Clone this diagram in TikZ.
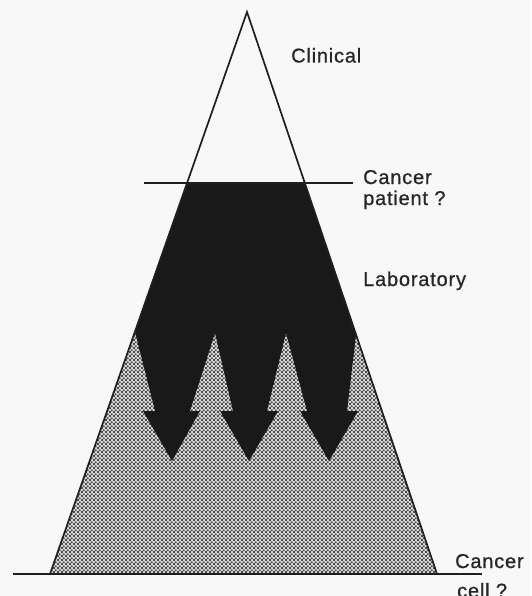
\documentclass[tikz,border=0pt]{standalone}
\usepackage{fontspec}
\setmainfont{Liberation Sans}
\newfontfamily\labfont[LetterSpace=4.0,FakeBold=0.8]{Liberation Sans}
\usetikzlibrary{patterns.meta}
\tikzdeclarepattern{
  name=stip,
  type=uncolored,
  bottom left={(0pt,0pt)},
  top right={(3.8pt,3.8pt)},
  tile size={(3.8pt,3.8pt)},
  code={
    \fill (0pt,0pt) rectangle (1.9pt,1.9pt);
    \fill (1.9pt,1.9pt) rectangle (3.8pt,3.8pt);
  }
}
\definecolor{paper}{HTML}{F8F8F8}
\definecolor{ink}{HTML}{262626}
\tikzset{
  outline/.style={draw=black!88, line width=1.7pt, line join=miter},
  rule/.style={draw=black!88, line width=1.4pt},
  txtlab/.style={anchor=base west, inner sep=0pt, text=ink,
    font=\labfont\fontsize{20}{22}\selectfont},
}
\begin{document}
\begin{tikzpicture}[x=1pt,y=-1pt]
\fill[paper] (0,0) rectangle (531,596);
\useasboundingbox (0,0) rectangle (531,596);
% coordinates
\coordinate (apex) at (247,12);
\coordinate (bl) at (50,574);
\coordinate (br) at (437,574);
\coordinate (tl) at (187,183);
\coordinate (tr) at (305,183);
% stippled lower part
\fill[black!14] (tl) -- (tr) -- (br) -- (bl) -- cycle;
\fill[pattern={stip}, pattern color=black!70] (tl) -- (tr) -- (br) -- (bl) -- cycle;
% black region with arrows
\fill[black!90] (tl) -- (tr) -- (356,335) -- (347,411) -- (358,411) -- (329,461)
  -- (300,411) -- (307,411) -- (286,333) -- (267,411) -- (278,411) -- (249,461)
  -- (220,411) -- (233,411) -- (215,333) -- (190,411) -- (200,411) -- (172,461)
  -- (143,411) -- (155,411) -- (135,332) -- cycle;
% triangle outline
\draw[outline] (bl) -- (apex) -- (br);
% horizontal rules
\coordinate (r1a) at (144,183);
\coordinate (r1b) at (353,183);
\coordinate (r2a) at (13,574);
\coordinate (r2b) at (482,574);
\draw[rule] (r1a) -- (r1b);
\draw[rule] (r2a) -- (r2b);
% labels
\node[txtlab] (clin) at (291,62.5) {Clinical};
\node[txtlab] (canc1) at (363,184) {Cancer};
\node[txtlab] (pat) at (363,205) {patient ?};
\node[txtlab] (lab) at (363,286) {Laboratory};
\node[txtlab] (canc2) at (455,568) {Cancer};
\node[txtlab] (cell) at (457,597.5) {cell ?};
\end{tikzpicture}
\end{document}
